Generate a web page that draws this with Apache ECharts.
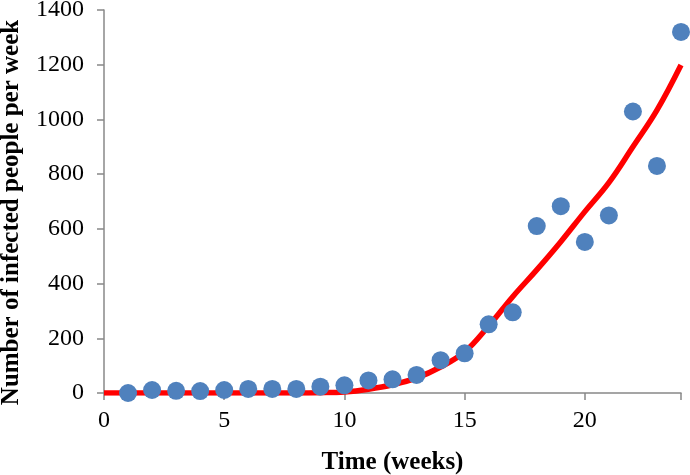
<!DOCTYPE html>
<html><head><meta charset="utf-8">
<script src="https://cdn.jsdelivr.net/npm/echarts@6/dist/echarts.min.js"></script>
<style>html,body{margin:0;padding:0;background:#fff}#c{width:690px;height:475px}</style>
</head><body><div id="c"></div>
<script>
const weeks = [1,2,3,4,5,6,7,8,9,10,11,12,13,14,15,16,17,18,19,20,21,22,23,24];
const infected = [0,11,8,7,11,15,15,15,23,28,46,50,66,120,145,251,295,610,683,552,649,1029,830,1320];
const fitWeeks = [0,2,4,6,8,9,10,11,12,13,14,15,16,17,18,19,20,21,22,23,24];
const fitValues = [0,0,0,0,0,1,4,14,30,55,95,150,245,352,450,553,663,769,900,1034,1199];
const xTicks = [0,5,10,15,20];
const yTicks = [0,200,400,600,800,1000,1200,1400];

const font = 'Liberation Serif';
const chart = echarts.init(document.getElementById('c'));
chart.setOption({
  animation: false,
  grid: {left: 104, right: 9, top: 10, bottom: 82, containLabel: false, outerBoundsMode: 'none'},
  xAxis: {
    type: 'value', min: 0, max: 24, interval: 5,
    name: 'Time (weeks)', nameLocation: 'middle', nameGap: 57,
    nameTextStyle: {fontFamily: font, fontSize: 25, fontWeight: 'bold', color: '#000'},
    axisLine: {lineStyle: {color: '#888', width: 1.5}},
    axisTick: {show: true, length: 7, lineStyle: {color: '#888', width: 1.5}},
    axisLabel: {fontFamily: font, fontSize: 24, color: '#000', margin: 16,
      formatter: v => xTicks.includes(v) ? String(v) : ''},
    splitLine: {show: false}
  },
  yAxis: {
    type: 'value', min: 0, max: 1400, interval: 200,
    name: 'Number of infected people per week', nameLocation: 'middle', nameGap: 80,
    nameTextStyle: {fontFamily: font, fontSize: 25, fontWeight: 'bold', color: '#000', padding: [0, 22, 0, 0]},
    axisLine: {show: true, lineStyle: {color: '#888', width: 1.5}},
    axisTick: {show: true, length: 7, lineStyle: {color: '#888', width: 1.5}},
    axisLabel: {fontFamily: font, fontSize: 24, color: '#000', margin: 20,
      formatter: v => yTicks.includes(v) ? String(v) : ''},
    splitLine: {show: false}
  },
  series: [
    {type: 'line', data: fitWeeks.map((w, i) => [w, fitValues[i]]), smooth: 0.4,
     showSymbol: false, symbol: 'none', lineStyle: {color: '#ff0000', width: 5.5}, z: 2},
    {type: 'scatter', data: weeks.map((w, i) => [w, infected[i]]), symbolSize: 18,
     itemStyle: {color: '#4f81bd', opacity: 1}, z: 3}
  ]
});
</script></body></html>
